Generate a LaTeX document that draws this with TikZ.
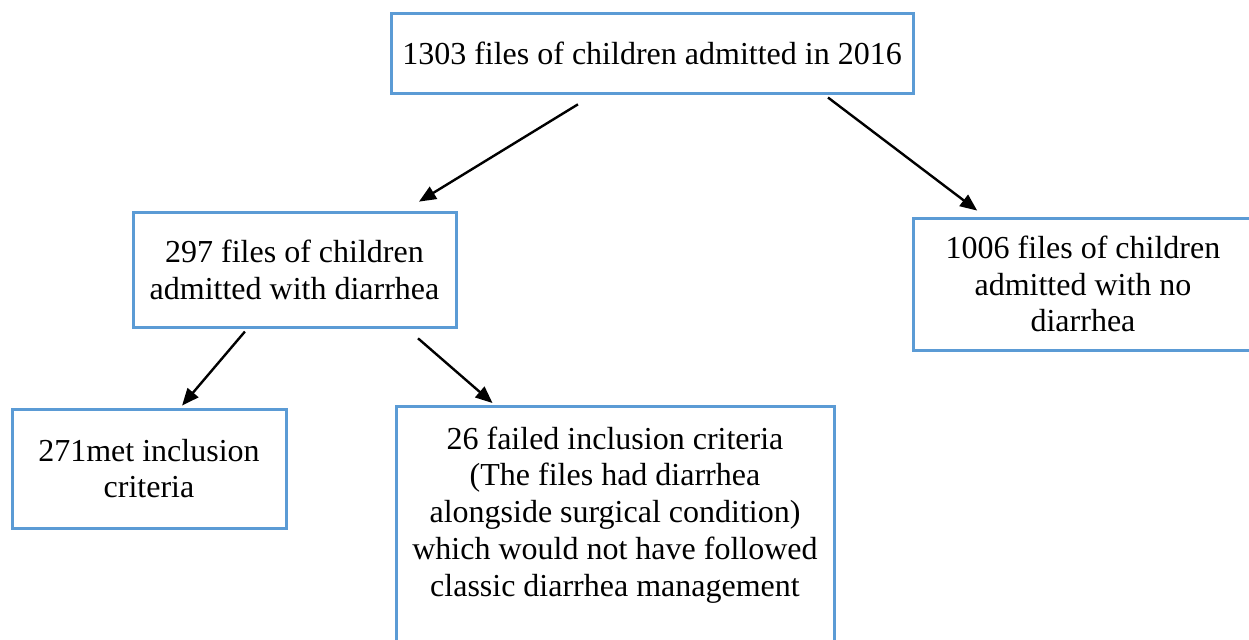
\documentclass[tikz,border=0pt]{standalone}
\usepackage{fontspec}
\setmainfont{Liberation Serif}
\usetikzlibrary{arrows.meta}
\definecolor{boxblue}{RGB}{91,155,213}

\begin{document}
\begin{tikzpicture}[
    x=0.5pt, y=-0.5pt,
    box/.style={draw=boxblue, line width=1.5pt, align=center, fill=white, inner sep=0pt, font=\fontsize{16}{18.4}\selectfont},
    arrow/.style={-{Triangle[length=8.5pt, width=7pt]}, line width=1.2pt}
]
    \useasboundingbox (0,0) rectangle (1249,639);

    % all admissions
    \node[box, minimum width=261pt, minimum height=40pt] (all) at (652,53) {1303 files of children admitted in 2016};

    % split by diarrhea
    \node[box, minimum width=161.5pt, minimum height=57.5pt] (diar) at (294.5,269.5) {297 files of children\\admitted with diarrhea};
    \node[box, minimum width=170pt, minimum height=66pt] (nodiar) at (1083,284) {1006 files of children\\admitted with no\\diarrhea};

    % inclusion criteria
    \node[box, minimum width=137pt, minimum height=59.5pt] (met) at (149,468.5) {271met inclusion\\criteria};
    \node[box, minimum width=219pt, anchor=north, inner ysep=10pt] (failed) at (615,405) {
        26 failed inclusion criteria\\(The files had diarrhea\\alongside surgical condition)\\which would not have followed\\classic diarrhea management\\~\\~
    };

    \draw[arrow, shorten <=9.4pt, shorten >=8.5pt] ([xshift=-29pt]all.south) -- ([xshift=55pt]diar.north);
    \draw[arrow, shorten <=2.5pt, shorten >=4.9pt] ([xshift=86pt]all.south) -- ([xshift=-49pt]nodiar.north);
    \draw[arrow, shorten <=2pt, shorten >=1.3pt] ([xshift=-23.5pt]diar.south) -- ([xshift=15.7pt]met.north);
    \draw[arrow, shorten <=7.5pt, shorten >=1.5pt] ([xshift=56.1pt]diar.south) -- ([xshift=-60.1pt]failed.north);

\end{tikzpicture}
\end{document}
